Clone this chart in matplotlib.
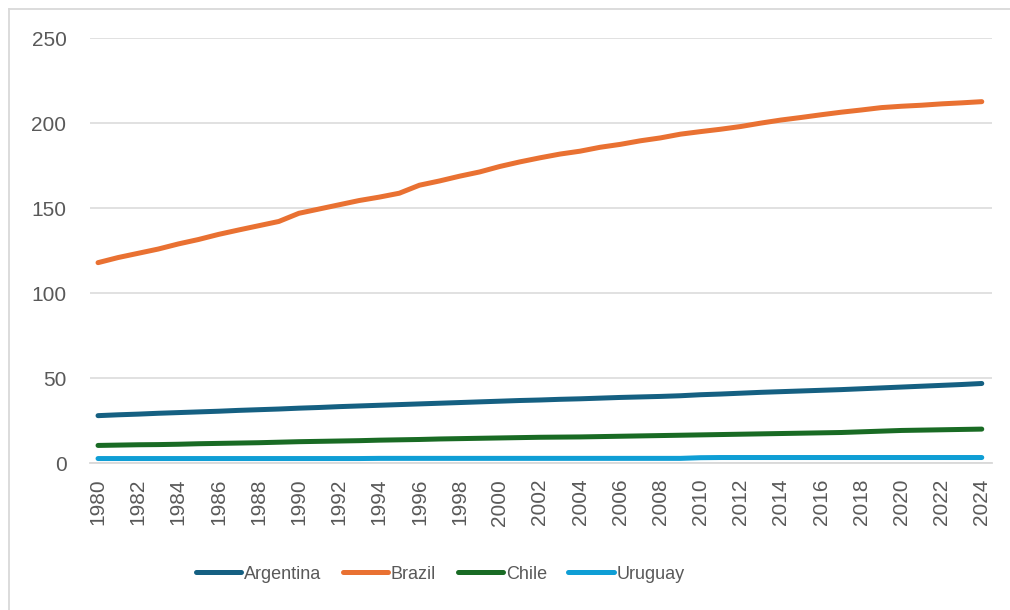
import numpy as np
import matplotlib
matplotlib.use('Agg')
import matplotlib.pyplot as plt
from matplotlib.lines import Line2D

years = list(range(1980, 2025))

argentina = [28.1, 28.6, 29.0, 29.5, 29.9, 30.3, 30.7, 31.2, 31.6, 32.0,
             32.5, 32.9, 33.4, 33.8, 34.2, 34.6, 35.0, 35.4, 35.8, 36.2,
             36.6, 37.0, 37.3, 37.7, 38.0, 38.4, 38.8, 39.1, 39.4, 39.8,
             40.4, 40.8, 41.3, 41.8, 42.2, 42.6, 43.0, 43.4, 43.9, 44.4,
             44.9, 45.4, 45.9, 46.4, 47.0]
brazil = [118.0, 121.0, 123.5, 126.0, 129.0, 131.6, 134.6, 137.2, 139.7, 142.2,
          147.0, 149.5, 152.0, 154.5, 156.5, 158.8, 163.5, 166.0, 168.8, 171.3,
          174.5, 177.2, 179.6, 181.8, 183.5, 185.8, 187.5, 189.6, 191.3, 193.5,
          195.0, 196.4, 198.0, 200.0, 201.8, 203.3, 204.9, 206.4, 207.7, 209.1,
          209.9, 210.5, 211.3, 211.9, 212.6]
chile = [10.6, 10.8, 11.0, 11.1, 11.3, 11.6, 11.8, 12.0, 12.2, 12.5,
         12.8, 13.0, 13.2, 13.4, 13.7, 13.9, 14.1, 14.4, 14.6, 14.8,
         15.0, 15.2, 15.4, 15.5, 15.6, 15.8, 16.0, 16.2, 16.4, 16.6,
         16.8, 17.0, 17.2, 17.4, 17.6, 17.8, 18.0, 18.2, 18.6, 19.0,
         19.4, 19.6, 19.8, 20.0, 20.2]
uruguay = [2.9, 2.9, 2.9, 2.9, 2.9, 2.9, 2.9, 2.9, 2.9, 2.9,
           2.9, 2.9, 2.9, 2.9, 3.0, 3.0, 3.0, 3.0, 3.0, 3.0,
           3.0, 3.0, 3.0, 3.0, 3.0, 3.0, 3.0, 3.0, 3.0, 3.0,
           3.4, 3.5, 3.5, 3.5, 3.5, 3.5, 3.5, 3.5, 3.5, 3.5,
           3.5, 3.5, 3.5, 3.5, 3.5]

series = [("Argentina", argentina, "#156082"),
          ("Brazil", brazil, "#E97132"),
          ("Chile", chile, "#196B24"),
          ("Uruguay", uruguay, "#0F9ED5")]

plt.rcParams['font.family'] = ['Liberation Sans', 'DejaVu Sans']
txt = "#595959"
grid = "#D9D9D9"

fig = plt.figure(figsize=(10.1, 6.1), dpi=100)
ax = fig.add_axes([0.0891, 0.2402, 0.8929, 0.6975])

for name, vals, col in series:
    ax.plot(years, vals, color=col, lw=3.6, label=name,
            solid_capstyle='round', solid_joinstyle='round')

ax.set_ylim(0, 250)
ax.set_xlim(1979.6, 2024.5)
ax.set_yticks(range(0, 251, 50))
ax.set_xticks(years[::2])
ax.set_xticklabels([str(y) for y in years[::2]], rotation=90)
ax.grid(axis='y', color=grid, lw=1.1)
ax.set_axisbelow(True)
for s in ['top', 'right', 'left']:
    ax.spines[s].set_visible(False)
ax.spines['bottom'].set_color(grid)
ax.spines['bottom'].set_linewidth(1.3)
ax.tick_params(axis='y', length=0, pad=17, labelsize=15, labelcolor=txt)
ax.tick_params(axis='x', length=0, pad=11, labelsize=15, labelcolor=txt)

leg = fig.legend(loc='center', bbox_to_anchor=(0.436, 0.059), ncol=4,
                 frameon=False, handlelength=2.5, handletextpad=0.15,
                 columnspacing=1.2,
                 prop={'family': ['Liberation Sans', 'DejaVu Sans'], 'size': 13})
for t in leg.get_texts():
    t.set_color(txt)
for h in leg.get_lines():
    h.set_solid_capstyle('round')

# chart frame
fig.add_artist(Line2D([0.0089, 0.0089], [0.0, 0.985], transform=fig.transFigure, color=grid, lw=1.3))
fig.add_artist(Line2D([0.0089, 1.0], [0.985, 0.985], transform=fig.transFigure, color=grid, lw=1.3))

fig.savefig("out.png", dpi=100)
